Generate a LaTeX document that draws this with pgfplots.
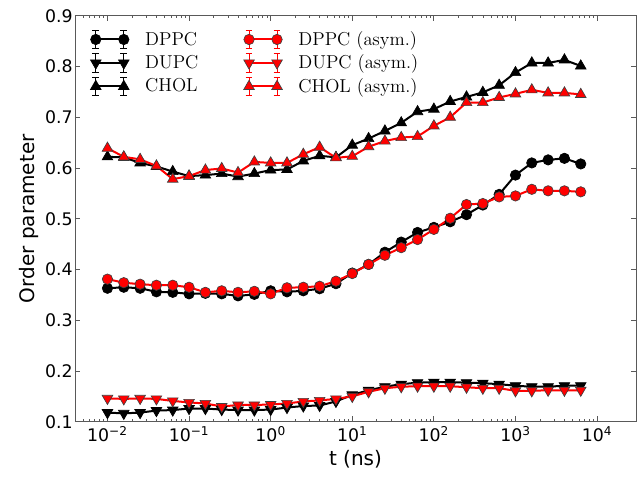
\documentclass[border=0pt]{standalone}
\usepackage{fontspec}
\usepackage{pgfplots}
\pgfplotsset{compat=1.18}
\usepackage{pgfplotstable}
\newfontfamily\dejavu{DejaVu Sans}
\definecolor{axgray}{gray}{0.35}
\definecolor{edgegray}{gray}{0.25}

% time in ns, order parameters (black: symmetric, red: asym.)
\pgfplotstableread{
x       dppc  dupc   chol  dppca dupca chola
0.01    0.363 0.118  0.622 0.381 0.146 0.639
0.01585 0.365 0.1165 0.621 0.374 0.145 0.622
0.02512 0.363 0.118  0.610 0.371 0.146 0.617
0.03981 0.356 0.122  0.603 0.369 0.145 0.604
0.0631  0.355 0.123  0.593 0.369 0.141 0.578
0.1     0.352 0.126  0.584 0.365 0.138 0.584
0.1585  0.353 0.126  0.586 0.355 0.136 0.596
0.2512  0.352 0.124  0.589 0.358 0.130 0.599
0.3981  0.348 0.123  0.583 0.355 0.133 0.591
0.631   0.351 0.123  0.589 0.357 0.133 0.612
1       0.358 0.124  0.596 0.352 0.134 0.610
1.585   0.356 0.128  0.597 0.364 0.136 0.610
2.512   0.358 0.131  0.614 0.365 0.140 0.627
3.981   0.362 0.132  0.624 0.367 0.142 0.641
6.31    0.372 0.140  0.621 0.377 0.145 0.620
10      0.393 0.153  0.645 0.392 0.150 0.623
15.85   0.410 0.162  0.658 0.410 0.159 0.642
25.12   0.434 0.169  0.673 0.428 0.166 0.653
39.81   0.454 0.174  0.689 0.443 0.169 0.660
63.1    0.473 0.177  0.711 0.459 0.170 0.662
100     0.483 0.178  0.716 0.479 0.170 0.683
158.5   0.494 0.178  0.731 0.501 0.170 0.700
251.2   0.508 0.177  0.740 0.528 0.168 0.729
398.1   0.527 0.176  0.749 0.530 0.166 0.729
631     0.548 0.174  0.763 0.543 0.166 0.739
1000    0.586 0.171  0.788 0.545 0.161 0.746
1585    0.610 0.169  0.807 0.558 0.161 0.754
2512    0.616 0.169  0.807 0.555 0.162 0.748
3981    0.619 0.171  0.813 0.555 0.162 0.748
6310    0.608 0.171  0.801 0.553 0.162 0.745
}\data

\begin{document}
\begin{tikzpicture}
\begin{axis}[
width=420.75pt,
height=304.5pt,
scale only axis,
xmode=log,
log basis x=10,
xmin=0.004, xmax=30000,
ymin=0.1, ymax=0.9,
ytick={0.1,0.2,0.3,0.4,0.5,0.6,0.7,0.8,0.9},
yticklabel style={font=\dejavu\fontsize{13}{13}\selectfont, inner sep=1.5pt,
  /pgf/number format/fixed, /pgf/number format/fixed zerofill,
  /pgf/number format/precision=1, /pgf/number format/assume math mode=true},
xticklabel={\pgfmathtruncatemacro\e{round(\tick)}\ifnum\e<0 10\textsuperscript{−\the\numexpr-\e\relax}\else 10\textsuperscript{\e}\fi},
xticklabel style={font=\dejavu\fontsize{13}{13}\selectfont},
axis line style={axgray},
tick style={axgray, line width=0.6pt},
major tick length=4pt,
minor tick length=2pt,
xlabel={t (ns)},
ylabel={Order parameter},
label style={font=\dejavu\fontsize{15}{15}\selectfont},
legend columns=3,
transpose legend,
legend cell align=left,
legend style={at={(rel axis cs:0.02,0.975)}, anchor=north west, draw=none, fill=none,
  font=\fontsize{14}{17}\selectfont, row sep=1.6pt,
  /tikz/every odd column/.append style={column sep=10pt},
  /tikz/every even column/.append style={column sep=32pt}},
legend image code/.code={%
  \draw[#1,mark=none,line width=0.8pt] (0pt,-7pt)--(0pt,7pt) (-2.5pt,-7pt)--(2.5pt,-7pt) (-2.5pt,7pt)--(2.5pt,7pt)
    (21pt,-7pt)--(21pt,7pt) (18.5pt,-7pt)--(23.5pt,-7pt) (18.5pt,7pt)--(23.5pt,7pt);
  \draw[#1] plot coordinates {(0pt,0pt) (21pt,0pt)};
},
every axis plot/.append style={line width=1.5pt},
]
\addplot[black, mark=*, mark size=3.9pt, mark options={fill=black, draw=black, line width=0.5pt}] table[x=x, y=dppc] {\data};
\addlegendentry{DPPC}
\addplot[black, mark=triangle*, mark size=4.6pt, mark options={rotate=180, fill=black, draw=black, line width=0.5pt}] table[x=x, y=dupc] {\data};
\addlegendentry{DUPC}
\addplot[black, mark=triangle*, mark size=4.6pt, mark options={fill=black, draw=black, line width=0.5pt}] table[x=x, y=chol] {\data};
\addlegendentry{CHOL}
\addplot[red, mark=*, mark size=3.9pt, mark options={fill=red, draw=edgegray, line width=0.5pt}] table[x=x, y=dppca] {\data};
\addlegendentry{DPPC (asym.)}
\addplot[red, mark=triangle*, mark size=4.6pt, mark options={rotate=180, fill=red, draw=edgegray, line width=0.5pt}] table[x=x, y=dupca] {\data};
\addlegendentry{DUPC (asym.)}
\addplot[red, mark=triangle*, mark size=4.6pt, mark options={fill=red, draw=edgegray, line width=0.5pt}] table[x=x, y=chola] {\data};
\addlegendentry{CHOL (asym.)}
\end{axis}
\path (current axis.south west) ++(-56.25pt,-40.7pt) rectangle ++(478.5pt,357pt);
\end{tikzpicture}
\end{document}
